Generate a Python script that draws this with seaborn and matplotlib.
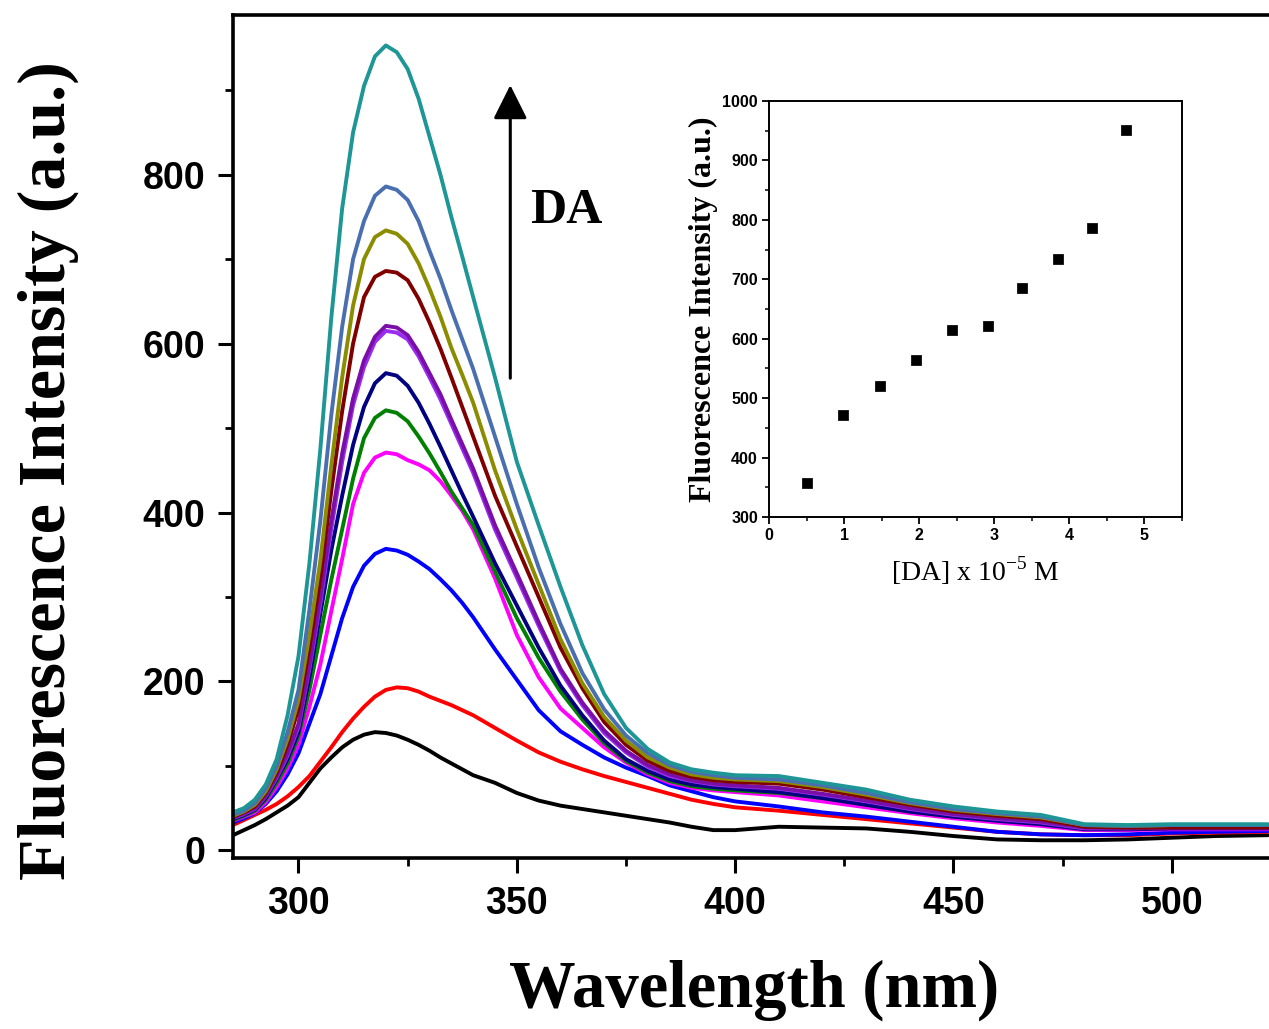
import pandas as pd
import seaborn as sns
import matplotlib.pyplot as plt
from matplotlib.ticker import MultipleLocator

# wavelength grid (nm)
wavelength = [285, 287.5, 290, 292.5, 295, 297.5, 300, 302.5, 305, 307.5, 310, 312.5, 315, 317.5,
              320, 322.5, 325, 327.5, 330, 332.5, 335, 337.5, 340,
              345, 350, 355, 360, 365, 370, 375, 380, 385, 390, 395, 400,
              410, 420, 430, 440, 450, 460, 470, 480, 490, 500, 510, 522]

# fluorescence intensity of each spectrum (a.u.), lowest to highest DA
int_black = [18, 24, 30, 37, 45, 53, 63, 80, 97, 110, 122, 131, 137, 140, 139, 136, 131, 125, 118, 110, 103, 96, 89,
             80, 68, 59, 53, 49, 45, 41, 37, 33, 28, 24, 24, 28, 27, 26, 22, 17, 13, 12, 12, 13, 15, 17, 18]
int_red = [30, 36, 42, 48, 55, 64, 75, 88, 105, 122, 140, 156, 170, 182, 190, 193, 192, 188, 182, 177, 172, 166, 160,
           145, 130, 116, 105, 96, 88, 81, 74, 67, 60, 55, 51, 47, 42, 37, 32, 27, 22, 19, 18, 18, 20, 21, 22]
int_blue = [33, 38, 44, 55, 70, 90, 115, 150, 185, 230, 275, 312, 337, 351, 357, 355, 350, 342, 333, 321, 308, 293, 276,
            238, 202, 166, 141, 125, 110, 98, 88, 77, 70, 63, 58, 52, 45, 40, 34, 28, 22, 19, 18, 19, 21, 22, 23]
int_magenta = [35, 40, 45, 57, 75, 97, 125, 170, 220, 283, 345, 410, 447, 465, 471, 469, 462, 457, 450, 437, 420, 402, 380,
               322, 255, 205, 168, 145, 122, 104, 90, 80, 74, 71, 69, 65, 58, 51, 44, 38, 33, 29, 24, 24, 25, 25, 25]
int_green = [36, 41, 47, 60, 80, 103, 135, 190, 255, 320, 380, 440, 488, 512, 521, 518, 508, 490, 470, 448, 425, 405, 385,
             330, 275, 228, 188, 155, 127, 106, 92, 82, 76, 73, 71, 68, 62, 54, 46, 40, 36, 33, 27, 27, 28, 29, 29]
int_navy = [37, 42, 48, 62, 84, 108, 140, 205, 280, 355, 420, 480, 525, 553, 565, 562, 550, 530, 505, 478, 450, 422, 395,
            340, 290, 240, 195, 160, 130, 108, 94, 84, 78, 75, 73, 69, 62, 54, 46, 40, 35, 31, 25, 25, 26, 26, 26]
int_violet = [38, 43, 49, 64, 86, 112, 146, 215, 292, 380, 460, 527, 572, 602, 615, 613, 605, 585, 560, 534, 505, 476, 447,
              380, 323, 266, 212, 172, 139, 116, 99, 88, 82, 78, 76, 73, 66, 58, 49, 42, 37, 33, 26, 26, 27, 27, 27]
int_purple = [39, 44, 50, 65, 88, 115, 150, 220, 300, 390, 470, 535, 580, 608, 621, 619, 610, 590, 565, 540, 510, 481, 452,
              385, 328, 270, 215, 175, 142, 118, 101, 90, 83, 79, 77, 74, 67, 59, 50, 43, 38, 34, 27, 26, 27, 28, 28]
int_wine = [40, 45, 52, 68, 92, 125, 168, 240, 322, 425, 520, 600, 655, 679, 686, 684, 675, 653, 625, 594, 560, 525, 490,
            420, 360, 300, 240, 192, 152, 125, 106, 94, 87, 83, 81, 79, 72, 63, 54, 46, 41, 37, 28, 27, 27, 27, 27]
int_olive = [41, 46, 54, 70, 96, 132, 178, 255, 343, 455, 560, 645, 700, 726, 734, 730, 718, 695, 665, 632, 595, 563, 530,
             450, 380, 315, 250, 198, 158, 130, 110, 98, 90, 86, 84, 82, 75, 66, 56, 48, 43, 39, 30, 29, 30, 30, 30]
int_royal = [42, 47, 56, 73, 100, 140, 190, 285, 390, 515, 620, 700, 745, 775, 786, 782, 770, 745, 710, 677, 640, 605, 570,
             490, 410, 335, 268, 210, 167, 136, 115, 101, 93, 89, 86, 84, 77, 68, 57, 49, 44, 40, 30, 29, 30, 30, 30]
int_cyan = [45, 50, 60, 78, 108, 160, 230, 340, 475, 630, 760, 850, 905, 940, 953, 945, 925, 890, 845, 800, 750, 703, 655,
            560, 460, 385, 312, 243, 185, 145, 120, 104, 96, 92, 89, 88, 80, 72, 60, 52, 46, 42, 31, 30, 31, 31, 31]

curve_names = ["black", "red", "blue", "magenta", "green", "navy",
               "violet", "purple", "wine", "olive", "royal", "cyan"]
curve_colors = ["#000000", "#FF0000", "#0000FF", "#FF00FF", "#008000", "#000080",
                "#9A2BF0", "#7A0FA8", "#800000", "#8C8C00", "#4A6FB0", "#1E9696"]

# inset: peak intensity vs DA concentration
da_conc = [0.5, 0.99, 1.48, 1.96, 2.44, 2.91, 3.37, 3.85, 4.3, 4.76]
da_peak = [357, 471, 521, 565, 615, 621, 686, 734, 786, 951]

series = [int_black, int_red, int_blue, int_magenta, int_green, int_navy,
          int_violet, int_purple, int_wine, int_olive, int_royal, int_cyan]
frames = []
for name, vals in zip(curve_names, series):
    frames.append(pd.DataFrame({"wavelength": wavelength, "intensity": vals, "curve": name}))
df = pd.concat(frames, ignore_index=True)

sns.set_style("ticks", rc={"text.color": "black", "axes.labelcolor": "black",
                           "xtick.color": "black", "ytick.color": "black",
                           "axes.edgecolor": "black"})
plt.rcParams["font.family"] = ["Liberation Serif", "DejaVu Serif"]
plt.rcParams["mathtext.fontset"] = "custom"
plt.rcParams["mathtext.rm"] = "Liberation Serif"

W, H = 1269, 1029
fig = plt.figure(figsize=(W / 100, H / 100), dpi=100)
fig.patch.set_facecolor("white")

# main axes (right edge runs past the picture like in the original)
ax = fig.add_axes([233 / W, 1 - 858 / H, (1281 - 233) / W, (858 - 15) / H])
sns.lineplot(data=df, x="wavelength", y="intensity", hue="curve", hue_order=curve_names,
             palette=curve_colors, linewidth=2.8, legend=False, ax=ax)
ax.set_xlim(285, 525)
ax.set_ylim(-9, 989)
ax.xaxis.set_major_locator(MultipleLocator(50))
ax.xaxis.set_minor_locator(MultipleLocator(25))
ax.yaxis.set_major_locator(MultipleLocator(200))
ax.yaxis.set_minor_locator(MultipleLocator(100))
ax.tick_params(which="major", direction="out", length=11, width=2.2, pad=9, labelsize=27)
ax.tick_params(which="minor", direction="out", length=6, width=2.0)
for lab in ax.get_xticklabels() + ax.get_yticklabels():
    lab.set_fontfamily("Liberation Sans")
    lab.set_fontweight("bold")
for sp in ax.spines.values():
    sp.set_linewidth(2.6)
ax.set_xlabel("Wavelength (nm)", fontsize=48, fontweight="bold")
ax.set_ylabel("Fluorescence Intensity (a.u.)", fontsize=49, fontweight="bold")
ax.xaxis.set_label_coords(0.497, -0.12)
ax.yaxis.set_label_coords(-0.147, 0.46)

# arrow + DA
ax.annotate("", xy=(348.5, 906), xytext=(348.5, 559),
            arrowprops=dict(arrowstyle="-|>,head_length=0.7,head_width=0.35", mutation_scale=30,
                            lw=2.2, color="black", shrinkA=0, shrinkB=0))
ax.text(361.4, 757, "DA", fontsize=36, fontweight="bold", ha="center", va="center")

# inset
ax2 = fig.add_axes([769 / W, 1 - 517 / H, 413 / W, 416 / H])
sns.scatterplot(x=da_conc, y=da_peak, marker="s", s=45, color="black", edgecolor="black", ax=ax2)
ax2.set_xlim(0, 5.5)
ax2.set_ylim(300, 1000)
ax2.xaxis.set_major_locator(MultipleLocator(1))
ax2.xaxis.set_minor_locator(MultipleLocator(0.5))
ax2.yaxis.set_major_locator(MultipleLocator(100))
ax2.yaxis.set_minor_locator(MultipleLocator(50))
ax2.tick_params(which="major", direction="out", length=5, width=1.3, pad=3, labelsize=11.5)
ax2.tick_params(which="minor", direction="out", length=3, width=1.1)
for lab in ax2.get_xticklabels() + ax2.get_yticklabels():
    lab.set_fontfamily("Liberation Sans")
    lab.set_fontweight("bold")
for sp in ax2.spines.values():
    sp.set_linewidth(1.4)
ax2.set_xlabel("[DA] x 10$^{\\mathregular{-5}}$ M", fontsize=20, labelpad=8)
ax2.set_ylabel("Fluorescence Intensity (a.u.)", fontsize=23, fontweight="bold", labelpad=3)

fig.savefig("out.png", dpi=100)
